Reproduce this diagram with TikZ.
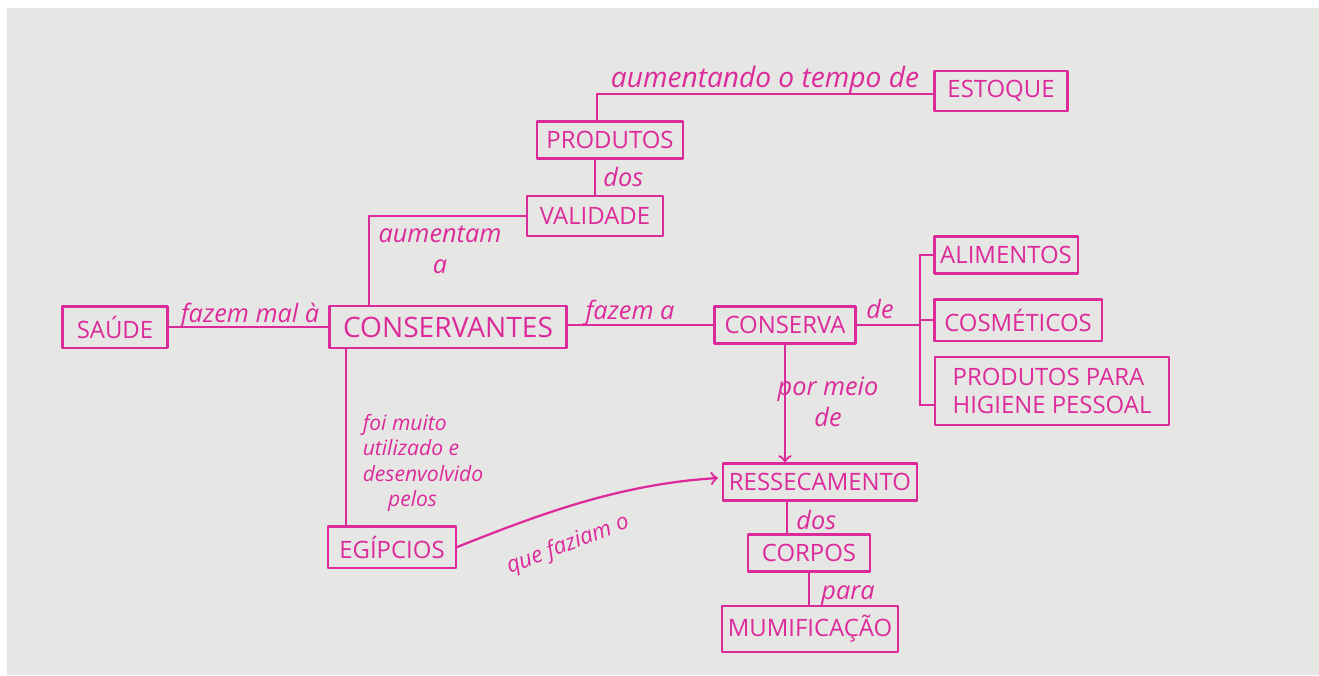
\documentclass[tikz,border=0pt]{standalone}
\usepackage{fontspec}
\setsansfont{Open Sans}
\usetikzlibrary{arrows}
\definecolor{pen}{HTML}{DD2A9B}
\definecolor{papel}{HTML}{E6E6E4}

\begin{document}
\begin{tikzpicture}[line cap=round,line join=round,>=to,x=0.0125cm,y=-0.0125cm,
	caixa/.style={draw=pen,line width=0.8pt,text=pen,font=\sffamily\fontsize{8.5}{10}\selectfont,inner xsep=2pt,minimum height=0.46cm},
	rotulo/.style={text=pen,font=\sffamily\itshape\small,inner sep=1pt},
	liga/.style={draw=pen,line width=0.8pt}]
	\useasboundingbox (0,0) rectangle (1319,675);
	\fill [white] (0,0) rectangle (1319,675);
	\fill [papel] (7,8) rectangle (1319,675);
	\node [caixa,minimum width=1.66cm] (estoque) at (1001,91) {ESTOQUE};
	\node [caixa,minimum width=1.83cm] (produtos) at (610,140) {PRODUTOS};
	\node [caixa,minimum width=1.70cm,minimum height=0.5cm] (validade) at (595,216) {VALIDADE};
	\node [caixa,minimum width=1.31cm,minimum height=0.5cm] (saude) at (115,327) {SAÚDE};
	\node [caixa,minimum width=2.96cm,minimum height=0.53cm,font=\sffamily] (cons) at (448,327) {CONSERVANTES};
	\node [caixa,minimum width=1.76cm] (conserva) at (785,325) {CONSERVA};
	\node [caixa,minimum width=1.79cm] (alimentos) at (1006,255) {ALIMENTOS};
	\node [caixa,minimum width=2.09cm] (cosmeticos) at (1018,320) {COSMÉTICOS};
	\node [caixa,minimum width=2.93cm,minimum height=0.85cm,align=left] (higiene) at (1052,391) {PRODUTOS PARA\\HIGIENE PESSOAL};
	\node [caixa,minimum width=2.30cm] (ressec) at (820,482) {RESSECAMENTO};
	\node [caixa,minimum width=1.53cm] (corpos) at (809,553) {CORPOS};
	\node [caixa,minimum width=2.11cm] (mumif) at (810,629) {MUMIFICAÇÃO};
	\node [caixa,minimum width=1.60cm,minimum height=0.51cm] (egipcios) at (392,547) {EGÍPCIOS};
	\coordinate (c1) at (369,0);
	\coordinate (c2) at (346,0);
	\coordinate (c3) at (597,94);
	\coordinate (c4) at (920,0);
	\coordinate (c5) at (920,405);
	\coordinate (c6) at (787,0);
	\draw [liga] (c3 |- produtos.north)-- (c3)-- (c3 -| estoque.west);
	\draw [liga] (produtos.south -| validade.north)-- (validade.north);
	\draw [liga] (validade.west) -| (c1 |- cons.north);
	\draw [liga] (saude.east)-- (saude.east -| cons.west);
	\draw [liga] (cons.east |- conserva.west)-- (conserva.west);
	\draw [liga] (conserva.east)-- (c4 |- conserva.east);
	\draw [liga] (c4 |- alimentos.west)-- (c5);
	\draw [liga] (c4 |- alimentos.west)-- (alimentos.west);
	\draw [liga] (c4 |- cosmeticos.west)-- (cosmeticos.west);
	\draw [liga] (c5)-- (c5 -| higiene.west);
	\draw [liga,->] (conserva.south)-- (conserva.south |- ressec.north);
	\draw [liga] (c2 |- cons.south)-- (c2 |- egipcios.north);
	\draw [liga,->] (egipcios.east) .. controls (540,514) and (620,484) .. (718,478);
	\draw [liga] (c6 |- ressec.south)-- (c6 |- corpos.north);
	\draw [liga] (corpos.south)-- (corpos.south |- mumif.north);
	\node [rotulo,font=\sffamily\itshape] (r1) at (765,80) {aumentando o tempo de};
	\node [rotulo,anchor=west] (r2) at (600,177) {dos};
	\node [rotulo,align=center] (r3) at (440,250) {aumentam\\a};
	\node [rotulo] (r4) at (250,316) {fazem mal à};
	\node [rotulo] (r5) at (630,313) {fazem a};
	\node [rotulo] (r6) at (880,309) {de};
	\node [rotulo,align=center] (r7) at (828,402) {por meio\\de};
	\node [rotulo,align=left,font=\sffamily\itshape\fontsize{7.5}{9}\selectfont] (r8) at (423,463) {foi muito\\utilizado e\\desenvolvido\\\hspace{1.2em}pelos};
	\node [rotulo,rotate=21,font=\sffamily\itshape\footnotesize] (r9) at (568,545) {que faziam o};
	\node [rotulo,anchor=west] (r10) at (793,520) {dos};
	\node [rotulo,anchor=west] (r11) at (818,596) {para};
\end{tikzpicture}
\end{document}
